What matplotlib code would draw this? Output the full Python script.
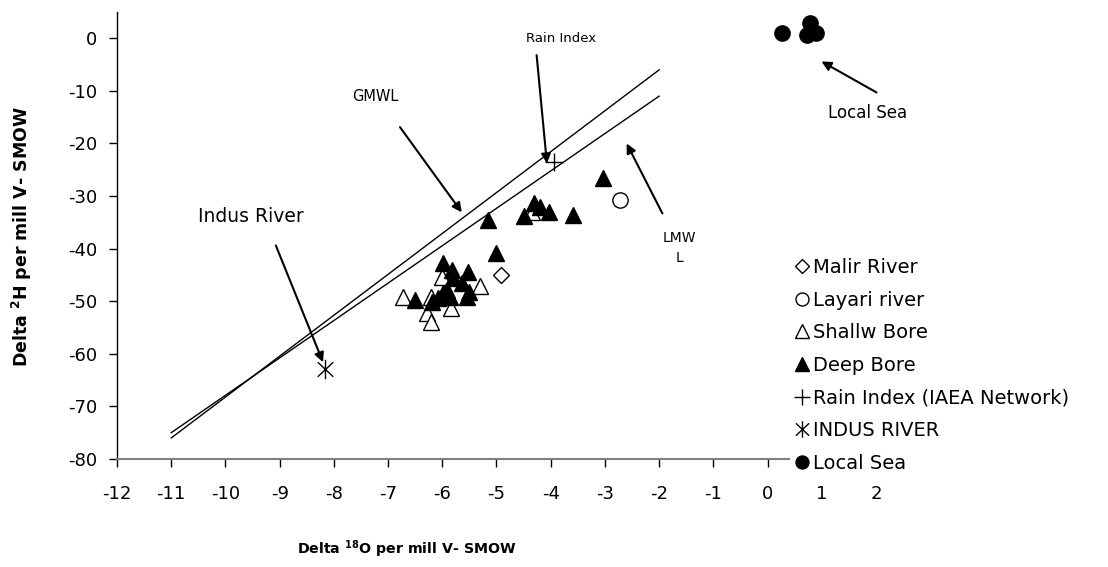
import matplotlib
matplotlib.use("Agg")
import matplotlib.pyplot as plt
from matplotlib.path import Path
from matplotlib.patches import Rectangle

plt.rcParams['font.family'] = ['DejaVu Sans']
plt.rcParams['axes.unicode_minus'] = False
plt.rcParams['mathtext.fontset'] = 'dejavusans'

# ---- data ----
malir_x = [-4.92]
malir_y = [-45.0]
layari_x = [-2.73]
layari_y = [-30.8]
shallow_x = [-6.73, -6.21, -6.00, -5.31, -5.84, -6.29, -6.21, -4.35]
shallow_y = [-49.2, -49.2, -45.4, -47.1, -51.3, -52.3, -54.0, -33.0]
deep_x = [-3.04, -4.30, -4.20, -4.04, -4.50, -3.58, -5.16, -5.00, -5.99, -5.53,
          -5.83, -5.80, -5.64, -5.92, -5.50, -5.55, -5.86, -5.99, -6.51, -6.19, -6.08]
deep_y = [-26.6, -31.4, -32.0, -33.0, -33.8, -33.6, -34.6, -40.9, -42.8, -44.5,
          -44.1, -45.6, -46.6, -47.9, -48.3, -49.2, -49.2, -48.5, -49.8, -50.2, -49.4]
rain_x = [-3.94]
rain_y = [-23.6]
indus_x = [-8.17]
indus_y = [-62.9]
sea_x = [0.26, 0.79, 0.72, 0.89]
sea_y = [1.1, 3.0, 0.6, 0.95]
gmwl_x = [-11, -2]
gmwl_y = [-76, -6]
lmwl_x = [-11, -2]
lmwl_y = [-75, -11]
xticks = list(range(-12, 3))
yticks = list(range(-80, 1, 10))

fig = plt.figure(figsize=(11.08, 5.67), dpi=100)
ax = fig.add_axes([117/1108, 1-459/567, (876-117)/1108, (459-12)/567])

ax.plot(gmwl_x, gmwl_y, color='black', lw=1.0, zorder=2)
ax.plot(lmwl_x, lmwl_y, color='black', lw=1.0, zorder=2)

star = Path([(0, 1), (0, -1), (-0.8, 0.75), (0.8, -0.75), (0.8, 0.75), (-0.8, -0.75)],
            [Path.MOVETO, Path.LINETO, Path.MOVETO, Path.LINETO, Path.MOVETO, Path.LINETO])

ax.plot(malir_x, malir_y, ls='none', marker='D', ms=8, mfc='white', mec='black', mew=1.0, label='Malir River', zorder=3)
ax.plot(layari_x, layari_y, ls='none', marker='o', ms=11, mfc='white', mec='black', mew=1.0, label='Layari river', zorder=3)
ax.plot(shallow_x, shallow_y, ls='none', marker='^', ms=12, mfc='white', mec='black', mew=1.0, label='Shallw Bore', zorder=3)
ax.plot(deep_x, deep_y, ls='none', marker='^', ms=12, mfc='black', mec='black', mew=1.0, label='Deep Bore', zorder=4)
ax.plot(rain_x, rain_y, ls='none', marker='+', ms=13, mec='black', mew=1.0, label='Rain Index (IAEA Network)', zorder=4)
ax.plot(indus_x, indus_y, ls='none', marker=star, ms=14, mec='black', mew=1.0, label='INDUS RIVER', zorder=4)
ax.plot(sea_x, sea_y, ls='none', marker='o', ms=11, mfc='black', mec='black', label='Local Sea', zorder=4)

ax.set_xlim(-12, 2)
ax.set_ylim(-80, 5)
ax.set_xticks(xticks)
ax.set_yticks(yticks)
ax.tick_params(axis='both', labelsize=13, direction='out', length=6, width=1.0, colors='black')
ax.tick_params(axis='x', pad=13)
ax.tick_params(axis='y', pad=8)
for s in ['top', 'right']:
    ax.spines[s].set_visible(False)
ax.spines['left'].set_color('black')
ax.spines['bottom'].set_color('#808080')
ax.spines['left'].set_linewidth(1.0)
ax.spines['bottom'].set_linewidth(1.5)

fig.text(407/1108, 1-549/567, r'Delta $\mathbf{^{18}}$O per mill V- SMOW', ha='center', va='center',
         fontsize=10.2, fontweight='bold')
fig.text(22/1108, 1-237/567, r'Delta $\mathbf{^{2}}$H per mill V- SMOW', ha='center', va='center',
         fontsize=12.5, fontweight='bold', rotation=90)

aprops = dict(arrowstyle='-|>', color='black', lw=1.5, mutation_scale=14, shrinkA=0, shrinkB=0)
ax.annotate('', xy=(-5.64, -33.1), xytext=(-6.78, -16.9), arrowprops=aprops)
ax.text(-7.23, -11.0, 'GMWL', ha='center', va='center', fontsize=10.5)
ax.annotate('', xy=(-8.20, -61.6), xytext=(-9.07, -39.4), arrowprops=aprops)
ax.text(-9.53, -33.8, 'Indus River', ha='center', va='center', fontsize=13.5)
ax.annotate('', xy=(-4.07, -23.8), xytext=(-4.26, -3.2), arrowprops=aprops)
ax.text(-3.80, 0.0, 'Rain Index', ha='center', va='center', fontsize=9.5)
ax.annotate('', xy=(-2.60, -20.0), xytext=(-1.94, -33.3), arrowprops=aprops)
ax.text(-1.62, -39.9, 'LMW\nL', ha='center', va='center', fontsize=10, linespacing=1.6)
ax.annotate('', xy=(0.995, -4.4), xytext=(2.01, -10.3), arrowprops=aprops, annotation_clip=False)
ax.text(1.84, -14.3, 'Local Sea', ha='center', va='center', fontsize=12, clip_on=False)

# white legend area that hides the right end of the x axis line
cover = Rectangle((790/1108, 1-480/567), (1108-790)/1108, (480-250)/567, transform=fig.transFigure,
                  facecolor='white', edgecolor='none', zorder=3, clip_on=False)
ax.add_artist(cover)

leg = ax.legend(loc='upper left', bbox_to_anchor=(795/1108, 1-258/567), bbox_transform=fig.transFigure,
                frameon=False, fontsize=14, handlelength=0.7, handletextpad=0.25, labelspacing=0.7,
                borderpad=0.0, borderaxespad=0.0, markerscale=0.85, numpoints=1)
leg.set_zorder(6)

fig.savefig('out.png', dpi=100)
